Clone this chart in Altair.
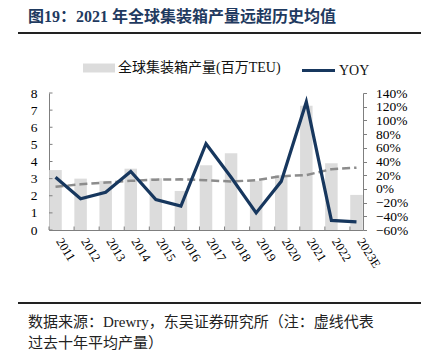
import altair as alt
import pandas as pd

years = ['2011', '2012', '2013', '2014', '2015', '2016', '2017', '2018', '2019', '2020', '2021', '2022', '2023E']
output = [3.5, 3.0, 2.87, 3.58, 3.02, 2.28, 3.78, 4.48, 2.87, 3.2, 7.25, 3.9, 2.05]
yoy = [0.17, -0.145, -0.05, 0.255, -0.155, -0.25, 0.66, 0.17, -0.35, 0.11, 1.27, -0.46, -0.48]
avg10 = [2.52, 2.67, 2.77, 2.87, 2.94, 2.96, 2.91, 2.83, 2.91, 3.14, 3.21, 3.55, 3.64]
left_ticks = [0, 1, 2, 3, 4, 5, 6, 7, 8]

bar_name = '全球集装箱产量(百万TEU)'
line_name = 'YOY'
title_text = '图19：2021 年全球集装箱产量远超历史均值'
foot1 = '数据来源：Drewry，东吴证券研究所（注：虚线代表'
foot2 = '过去十年平均产量）'

FONT = 'Liberation Serif, Times New Roman, Noto Sans CJK SC'
NAVY = '#17375E'

df = pd.DataFrame({'year': years, 'output': output, 'yoy': yoy, 'avg': avg10,
                   'bs': [bar_name] * len(years), 'ls': [line_name] * len(years)})

xscale = alt.Scale(paddingInner=0.48, paddingOuter=0.0)
xaxis = alt.Axis(labels=False, domainColor='#7f7f7f', domainWidth=1, ticks=False, title=None)


def X(**kw):
    return alt.X('year:N', sort=years, scale=xscale, axis=xaxis, title=None, **kw)


yleft = alt.Scale(domain=[0, 8], nice=False)
yleft_axis = alt.Axis(values=left_ticks, tickSize=0, labelPadding=12, labelFont=FONT,
                      labelFontSize=13.5, labelColor='#000', domainColor='#7f7f7f', grid=False, title=None)


def YL(field):
    return alt.Y(field, scale=yleft, axis=yleft_axis, title=None)


base = alt.Chart(df)

bars = base.mark_bar(size=12.5).encode(
    x=X(),
    y=YL('output:Q'),
    fill=alt.Fill('bs:N', scale=alt.Scale(range=['#DCDCDC']),
                  legend=alt.Legend(orient='none', legendX=34, legendY=-41, title=None, padding=0,
                                    symbolType='M-1,-0.28L1,-0.28L1,0.28L-1,0.28Z', symbolSize=1024,
                                    symbolStrokeWidth=0, labelFont=FONT, labelFontSize=14, labelLimit=0,
                                    labelColor='#111', labelOffset=3)),
)

avg_line = base.mark_line(color='#8C8C8C', strokeWidth=2.5, strokeDash=[8, 4]).encode(
    x=X(), y=YL('avg:Q'))

lt = alt.Chart(pd.DataFrame({'v': left_ticks})).mark_rule(color='#7f7f7f', strokeWidth=1).encode(
    x=alt.value(0), x2=alt.value(3.5), y=YL('v:Q'))

bt = base.mark_rule(color='#7f7f7f', strokeWidth=1).encode(
    x=X(bandPosition=0), y=alt.value(133.5), y2=alt.value(137))

xlabels = base.mark_text(angle=58, align='left', baseline='middle', font=FONT, fontSize=12.5,
                         color='#000', dx=2, dy=-3).encode(
    x=X(), y=alt.value(146), text='year:N')

left_layer = alt.layer(bars, avg_line, lt, bt, xlabels)

yoy_line = base.mark_line(color=NAVY, strokeWidth=3.2).encode(
    x=X(),
    y=alt.Y('yoy:Q', scale=alt.Scale(domain=[-0.6, 1.4], nice=False), title=None,
            axis=alt.Axis(orient='right', values=[-0.6 + 0.2 * i for i in range(11)], format='.0%',
                          tickSize=3.5, tickColor='#7f7f7f', labelPadding=9, labelFont=FONT,
                          labelFontSize=13.5, labelColor='#000', domainColor='#7f7f7f', grid=False,
                          title=None)),
    stroke=alt.Stroke('ls:N', scale=alt.Scale(range=[NAVY]),
                      legend=alt.Legend(orient='none', legendX=251, legendY=-41, title=None, padding=0,
                                        symbolType='stroke', symbolSize=1089, symbolStrokeWidth=3.2,
                                        labelFont=FONT, labelFontSize=14, labelColor='#111',
                                        labelOffset=2)),
)

one = pd.DataFrame({'a': [0]})
title_mark = alt.Chart(one).mark_text(text=title_text, align='left', baseline='middle', font=FONT,
                                      fontSize=16, fontWeight='bold', color='#1F3A60').encode(
    x=alt.value(-21), y=alt.value(-76))
top_rule = alt.Chart(one).mark_rule(color='#222', strokeWidth=2).encode(
    x=alt.value(-31), x2=alt.value(372), y=alt.value(-60))
foot_rule = alt.Chart(one).mark_rule(color='#222', strokeWidth=2).encode(
    x=alt.value(-31), x2=alt.value(372), y=alt.value(210))
foot_a = alt.Chart(one).mark_text(text=foot1, align='left', baseline='middle', font=FONT,
                                  fontSize=15, color='#222').encode(x=alt.value(-21), y=alt.value(229))
foot_b = alt.Chart(one).mark_text(text=foot2, align='left', baseline='middle', font=FONT,
                                  fontSize=15, color='#222').encode(x=alt.value(-21), y=alt.value(250))

chart = alt.layer(left_layer, yoy_line, title_mark, top_rule, foot_rule, foot_a, foot_b).resolve_scale(
    y='independent'
).properties(
    width=314, height=137,
    autosize=alt.AutoSizeParams(type='none'),
    padding={'left': 49, 'top': 93, 'right': 58, 'bottom': 123},
).configure_view(stroke=None)

chart.save('out.html', embed_options={'renderer': 'svg', 'actions': False})
